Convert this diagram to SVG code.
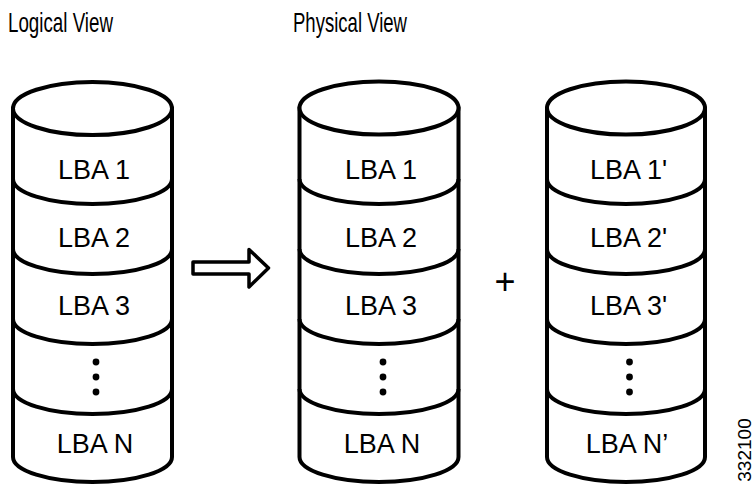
<svg xmlns="http://www.w3.org/2000/svg" width="755" height="486" viewBox="0 0 755 486">
<style>
  .cyl { fill: #fff; stroke: #000; stroke-width: 4; }
  .sep { fill: none; stroke: #000; stroke-width: 4; }
  .lbl { font-family: "Liberation Sans", Arial, sans-serif; font-size: 27px; fill: #000; text-anchor: middle; }
  .title { font-family: "Liberation Sans", Arial, sans-serif; font-size: 28px; fill: #000; }
  .dot { fill: #000; }
</style>
<rect width="755" height="486" fill="#fff"/>
<text class="title" x="8" y="31.5" textLength="105" lengthAdjust="spacingAndGlyphs">Logical View</text>
<text class="title" x="293" y="31.5" textLength="114" lengthAdjust="spacingAndGlyphs">Physical View</text>

<g id="logical">
  <path class="cyl" d="M13,108.5 V457 A79.5,25 0 0 0 172,457 V108.5 Z"/>
  <ellipse class="cyl" cx="92.5" cy="108.5" rx="79.5" ry="26.5"/>
  <path class="sep" d="M13,179 A79.5,25 0 0 0 172,179 M13,249 A79.5,25 0 0 0 172,249 M13,319 A79.5,25 0 0 0 172,319 M13,389 A79.5,25 0 0 0 172,389"/>
  <text class="lbl" x="94" y="178.5">LBA 1</text>
  <text class="lbl" x="94" y="246.5">LBA 2</text>
  <text class="lbl" x="94" y="315">LBA 3</text>
  <circle class="dot" cx="96" cy="362" r="3.4"/>
  <circle class="dot" cx="96" cy="377" r="3.4"/>
  <circle class="dot" cx="96" cy="392" r="3.4"/>
  <text class="lbl" x="95" y="453">LBA N</text>
</g>

<g id="physical1">
  <path class="cyl" d="M299.5,108.5 V457 A79.5,25 0 0 0 458.5,457 V108.5 Z"/>
  <ellipse class="cyl" cx="379" cy="108" rx="79.5" ry="26.5"/>
  <path class="sep" d="M299.5,179 A79.5,25 0 0 0 458.5,179 M299.5,249 A79.5,25 0 0 0 458.5,249 M299.5,319 A79.5,25 0 0 0 458.5,319 M299.5,389 A79.5,25 0 0 0 458.5,389"/>
  <text class="lbl" x="381" y="178.5">LBA 1</text>
  <text class="lbl" x="381" y="246.5">LBA 2</text>
  <text class="lbl" x="381" y="315">LBA 3</text>
  <circle class="dot" cx="383" cy="362" r="3.4"/>
  <circle class="dot" cx="383" cy="377" r="3.4"/>
  <circle class="dot" cx="383" cy="392" r="3.4"/>
  <text class="lbl" x="382" y="453">LBA N</text>
</g>

<g id="physical2">
  <path class="cyl" d="M547,108.5 V457 A79,25 0 0 0 705,457 V108.5 Z"/>
  <ellipse class="cyl" cx="626" cy="108" rx="79" ry="26.5"/>
  <path class="sep" d="M547,179 A79,25 0 0 0 705,179 M547,249 A79,25 0 0 0 705,249 M547,319 A79,25 0 0 0 705,319 M547,389 A79,25 0 0 0 705,389"/>
  <text class="lbl" x="628.5" y="178.5">LBA 1'</text>
  <text class="lbl" x="628.5" y="246.5">LBA 2'</text>
  <text class="lbl" x="628.5" y="315">LBA 3'</text>
  <circle class="dot" cx="629.5" cy="362" r="3.4"/>
  <circle class="dot" cx="629.5" cy="377" r="3.4"/>
  <circle class="dot" cx="629.5" cy="392" r="3.4"/>
  <text class="lbl" x="627" y="453">LBA N’</text>
</g>

<g id="connectors">
  <polygon points="193,262 249,262 249,249.5 268.5,268 249,287 249,274 193,274" fill="#fff" stroke="#000" stroke-width="3.5" stroke-linejoin="round"/>
</g>

<text id="plus" x="505" y="294" font-family="Liberation Sans, Arial, sans-serif" font-size="36" text-anchor="middle">+</text>
<text id="fignum" transform="translate(751,450) rotate(-90)" font-family="Liberation Sans, Arial, sans-serif" font-size="19" text-anchor="middle">332100</text>
</svg>
